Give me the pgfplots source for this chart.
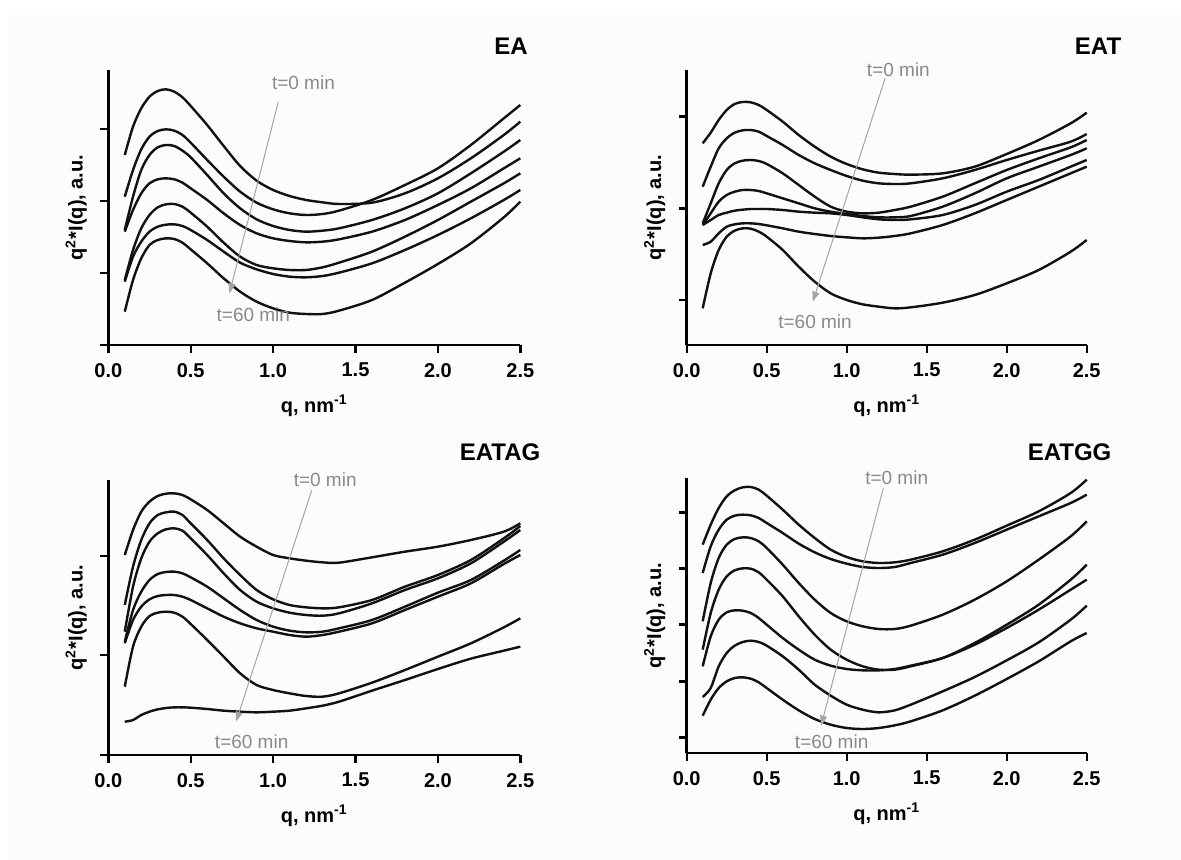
\documentclass[border=0pt]{standalone}
\usepackage{fontspec}
\setmainfont{Liberation Sans}
\usepackage{pgfplots}
\pgfplotsset{compat=1.18}
\usepackage{pgfplotstable}
\usetikzlibrary{arrows.meta}

\definecolor{bgc}{RGB}{252,252,250}
\definecolor{curve}{RGB}{17,17,17}
\definecolor{arrowgray}{RGB}{165,165,165}
\definecolor{textgray}{RGB}{138,138,138}

% y values in arbitrary units, counted downwards (y dir=reverse)
\pgfplotstableread{
q    c1  c2  c3  c4  c5  c6  c7
0.10 285 410 510 515 660 665 755
0.15 200 330 410 450 570 590 660
0.20 145 268 330 400 505 545 595
0.25 110 230 285 370 465 515 555
0.30  93 213 262 358 442 500 540
0.35  88 208 255 355 433 494 535
0.40  95 212 258 358 432 493 537
0.45 112 225 272 368 440 498 548
0.50 138 248 292 385 458 510 568
0.60 195 300 345 420 500 540 610
0.70 258 350 400 460 548 575 655
0.80 318 395 445 495 590 608 695
0.90 362 428 478 520 615 628 725
1.00 390 448 498 535 625 642 745
1.10 408 460 510 543 630 650 758
1.20 420 465 515 547 630 652 762
1.30 427 462 512 545 622 648 762
1.40 432 452 505 538 608 638 752
1.60 428 420 480 515 575 610 720
1.80 400 375 445 480 530 570 668
2.00 355 325 400 435 480 525 612
2.20 295 255 340 385 425 475 550
2.40 225 175 275 325 370 420 472
2.50 185 135 240 295 340 390 425
}\tEA

\pgfplotstableread{
q    c1  c2  c3  c4  c5  c6  c7
0.10 250 380 490 495 495 555 745
0.15 218 320 430 460 480 545 640
0.20 180 265 370 425 465 520 570
0.25 150 235 330 405 458 500 530
0.30 132 218 310 395 452 493 512
0.35 126 211 302 390 449 490 505
0.40 127 210 300 390 447 490 506
0.45 135 215 303 393 447 492 515
0.50 150 228 312 400 447 496 530
0.60 185 255 340 415 450 505 570
0.70 225 285 375 430 455 515 620
0.80 260 310 410 445 458 522 665
0.90 290 330 440 455 460 528 700
1.00 312 348 455 462 465 532 720
1.10 328 362 460 468 472 535 733
1.20 338 370 458 472 478 533 740
1.30 342 372 450 472 480 528 745
1.40 344 370 440 468 478 520 742
1.60 340 355 410 440 465 495 728
1.80 320 330 370 400 435 460 705
2.00 282 300 330 355 395 420 670
2.20 240 272 295 320 360 380 630
2.40 190 245 262 285 320 340 575
2.50 158 222 240 265 300 320 540
}\tEAT

\pgfplotstableread{
q    c1  c2  c3  c4  c5  c6  c7
0.10 345 495 575 605 610 740 845
0.15 270 380 440 510 540 620 840
0.20 215 300 355 455 500 560 825
0.25 185 250 305 420 478 528 815
0.30 168 225 280 402 468 518 808
0.35 161 217 268 396 465 515 804
0.40 160 215 265 395 465 518 802
0.45 165 225 272 400 470 530 802
0.50 178 250 295 412 480 552 803
0.60 210 300 345 440 505 600 807
0.70 250 355 400 475 530 650 812
0.80 290 405 450 510 550 700 815
0.90 320 450 485 540 565 735 817
1.00 345 478 505 560 575 750 815
1.10 355 495 518 572 585 760 812
1.20 362 502 525 577 590 768 805
1.30 367 505 527 575 585 770 797
1.40 368 502 520 565 575 760 785
1.60 352 480 490 540 550 728 752
1.80 335 440 450 500 510 690 720
2.00 320 405 415 458 470 650 687
2.20 300 360 370 420 430 610 656
2.40 275 295 305 362 372 562 632
2.50 250 258 270 330 345 535 620
}\tEATAG

\pgfplotstableread{
q    c1  c2  c3  c4  c5  c6  c7
0.10 315 400 545 630 680 772 828
0.15 255 320 430 520 590 745 780
0.20 205 270 355 450 540 680 745
0.25 170 240 315 410 518 640 725
0.30 152 228 298 392 512 618 715
0.35 143 225 293 386 513 607 713
0.40 142 227 295 387 520 603 717
0.45 150 235 305 398 535 607 728
0.50 168 250 325 420 555 618 745
0.60 210 280 375 470 595 650 780
0.70 255 312 430 530 630 690 812
0.80 295 338 480 585 660 735 838
0.90 330 358 520 630 678 768 855
1.00 352 372 545 660 688 795 865
1.10 365 382 560 680 692 810 868
1.20 370 385 568 690 692 818 865
1.30 368 382 568 690 688 812 857
1.40 360 370 558 680 678 795 845
1.60 335 345 525 655 655 755 812
1.80 300 310 480 610 615 712 768
2.00 258 270 425 555 565 662 718
2.20 215 230 360 495 510 608 665
2.40 160 190 290 420 450 540 605
2.50 120 165 245 375 420 498 580
}\tEATGG

\tikzset{
  tlab/.style={text=textgray, font=\fontsize{9.5}{11}\selectfont},
  ttl/.style={font=\bfseries\fontsize{12}{14}\selectfont},
  tarr/.style={draw=arrowgray, line width=0.5pt, -{Triangle[length=5pt,width=3.5pt]}},
}

\pgfplotsset{
  panel/.style={
    scale only axis,
    axis x line*=bottom, axis y line*=left,
    axis line style={line width=1.4pt, black},
    xmin=0, xmax=2.5,
    y dir=reverse,
    height=137.5pt,
    xtick={0,0.5,1,1.5,2,2.5},
    yticklabels={},
    tick align=outside, major tick length=4pt,
    tick style={line width=1.2pt, black},
    /pgf/number format/assume math mode=true,
    /pgf/number format/fixed,
    /pgf/number format/fixed zerofill,
    /pgf/number format/precision=1,
    xticklabel style={font=\bfseries\fontsize{10}{12}\selectfont, yshift=-1.5pt},
    xlabel={q, nm\textsuperscript{-1}},
    ylabel={q\textsuperscript{2}*I(q), a.u.},
    label style={font=\bfseries\fontsize{10}{12}\selectfont},
    x label style={at={(axis description cs:0.5,0)}, anchor=base, yshift=-33.5pt},
    y label style={at={(axis description cs:0,0.5)}, anchor=center, yshift=16pt},
    clip=false,
    cycle list={curve,solid,line width=1.2pt,smooth,mark=none\\},
  },
}

\begin{document}
\begin{tikzpicture}
\fill[white] (0,0) rectangle (590.5pt,-430pt);
\fill[bgc] (4pt,-5pt) rectangle (590.5pt,-430pt);

% EA
\begin{axis}[panel, at={(54.15pt,-172.5pt)}, anchor=south west,
  width=206pt, ymin=30, ymax=855, ytick={207,423,639,855}]
\pgfplotsinvokeforeach{c1,c2,c3,c4,c5,c6,c7}{\addplot table[x=q,y=#1]{\tEA};}
\draw[tarr] (axis cs:1.032,125) -- (axis cs:0.735,700);
\node[tlab] at (axis cs:1.184,68) {t=0 min};
\node[tlab] at (axis cs:0.880,765) {t=60 min};
\node[ttl] at (axis cs:2.444,-42) {EA};
\end{axis}

% EAT
\begin{axis}[panel, at={(343.35pt,-172.5pt)}, anchor=south west,
  width=200pt, ymin=30, ymax=855, ytick={170,446,720}]
\pgfplotsinvokeforeach{c1,c2,c3,c4,c5,c6,c7}{\addplot table[x=q,y=#1]{\tEAT};}
\draw[tarr] (axis cs:1.240,55) -- (axis cs:0.788,725);
\node[tlab] at (axis cs:1.323,30) {t=0 min};
\node[tlab] at (axis cs:0.802,785) {t=60 min};
\node[ttl] at (axis cs:2.571,-42) {EAT};
\end{axis}

% EATAG
\begin{axis}[panel, at={(54.15pt,-377.5pt)}, anchor=south west,
  width=206pt, ymin=120, ymax=945, ytick={348,645,945}]
\pgfplotsinvokeforeach{c1,c2,c3,c4,c5,c6,c7}{\addplot table[x=q,y=#1]{\tEATAG};}
\draw[tarr] (axis cs:1.235,150) -- (axis cs:0.775,845);
\node[tlab] at (axis cs:1.316,118) {t=0 min};
\node[tlab] at (axis cs:0.870,905) {t=60 min};
\node[ttl] at (axis cs:2.377,37) {EATAG};
\end{axis}

% EATGG
\begin{axis}[panel, at={(343.35pt,-376.5pt)}, anchor=south west,
  width=200pt, ymin=115, ymax=940, ytick={218,387,555,725,893}]
\pgfplotsinvokeforeach{c1,c2,c3,c4,c5,c6,c7}{\addplot table[x=q,y=#1]{\tEATGG};}
\draw[tarr] (axis cs:1.229,145) -- (axis cs:0.840,858);
\node[tlab] at (axis cs:1.3125,113) {t=0 min};
\node[tlab] at (axis cs:0.906,905) {t=60 min};
\node[ttl] at (axis cs:2.393,37) {EATGG};
\end{axis}
\end{tikzpicture}
\end{document}
